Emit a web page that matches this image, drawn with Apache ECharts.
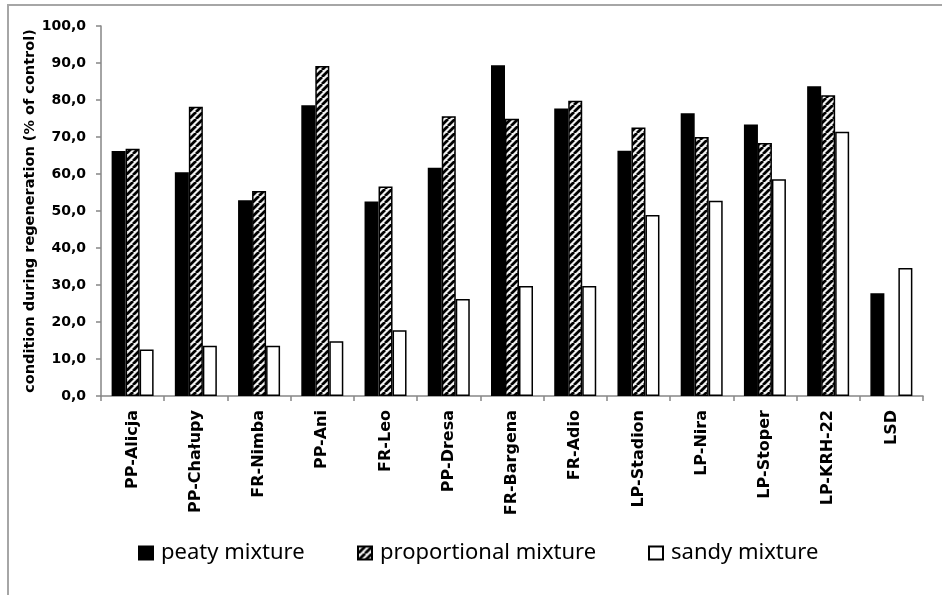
<!DOCTYPE html>
<html>
<head>
<meta charset="utf-8">
<script src="https://cdn.jsdelivr.net/npm/echarts@6/dist/echarts.min.js"></script>
<style>html,body{margin:0;padding:0;background:#fff}#c{width:942px;height:595px}</style>
</head>
<body>
<div id="c"></div>
<script>
const categories = ['PP-Alicja','PP-Chałupy','FR-Nimba','PP-Ani','FR-Leo','PP-Dresa','FR-Bargena','FR-Adio','LP-Stadion','LP-Nira','LP-Stoper','LP-KRH-22','LSD'];
const peaty = [66.2, 60.5, 52.9, 78.6, 52.6, 61.7, 89.4, 77.7, 66.3, 76.4, 73.4, 83.7, 27.8];
const proportional = [66.8, 78.2, 55.4, 89.2, 56.6, 75.6, 74.9, 79.8, 72.6, 70.0, 68.4, 81.3, null];
const sandy = [12.6, 13.6, 13.6, 14.8, 17.8, 26.2, 29.7, 29.7, 48.9, 52.8, 58.6, 71.4, 34.6];
const seriesNames = ['peaty mixture', 'proportional mixture', 'sandy mixture'];
const yAxisName = 'condition during regeneration (% of control)';

function hatch() {
  const s = 7;
  const cv = document.createElement('canvas');
  cv.width = s; cv.height = s;
  const ctx = cv.getContext('2d');
  ctx.fillStyle = '#f0f0f0';
  ctx.fillRect(0, 0, s, s);
  ctx.strokeStyle = '#000';
  ctx.lineWidth = 2.8;
  ctx.beginPath();
  for (const k of [-s, 0, s]) { ctx.moveTo(k, s); ctx.lineTo(k + s, 0); }
  ctx.stroke();
  return cv;
}
const hatchPattern = { image: hatch(), repeat: 'repeat' };

const chart = echarts.init(document.getElementById('c'), null, { renderer: 'canvas' });
const legendBase = {
  top: 542, padding: 0, itemWidth: 14, itemHeight: 13, icon: 'rect',
  textStyle: { fontFamily: 'Noto Sans', fontSize: 22, color: '#000', padding: [0, 0, 0, 3] },
  selectedMode: false
};
const axisColor = '#868686';
chart.setOption({
  animation: false,
  backgroundColor: '#fff',
  graphic: [{
    type: 'rect', shape: { x: 8, y: 5, width: 960, height: 640 },
    style: { fill: 'none', stroke: '#a6a6a6', lineWidth: 2 }, silent: true
  }],
  legend: [
    Object.assign({}, legendBase, { left: 138, data: [seriesNames[0]] }),
    Object.assign({}, legendBase, { left: 357, data: [seriesNames[1]] }),
    Object.assign({}, legendBase, { left: 648, data: [seriesNames[2]] })
  ],
  grid: { left: 101, right: 19, top: 26, bottom: 199, containLabel: false },
  xAxis: {
    type: 'category', data: categories,
    axisLine: { lineStyle: { color: axisColor, width: 1.5 } },
    axisTick: { show: true, length: 5, lineStyle: { color: axisColor, width: 1.5 } },
    axisLabel: { rotate: 90, interval: 0, margin: 14, fontFamily: 'DejaVu Sans', fontWeight: 'bold', fontSize: 16, color: '#000' },
    splitLine: { show: false }
  },
  yAxis: {
    type: 'value', min: 0, max: 100, interval: 10,
    name: yAxisName, nameLocation: 'middle', nameGap: 63, nameRotate: 90, nameMoveOverlap: false,
    nameTextStyle: { fontFamily: 'DejaVu Sans', fontWeight: 'bold', fontSize: 14.5, color: '#000' },
    axisLine: { show: true, lineStyle: { color: axisColor, width: 1.5 } },
    axisTick: { show: true, length: 5, lineStyle: { color: axisColor, width: 1.5 } },
    axisLabel: { margin: 15, fontFamily: 'DejaVu Sans', fontWeight: 'bold', fontSize: 14, color: '#000',
      formatter: v => v.toFixed(1).replace('.', ',') },
    splitLine: { show: false }
  },
  series: [
    { name: seriesNames[0], type: 'bar', data: peaty, barWidth: 14, barGap: '0%',
      itemStyle: { color: '#000', borderColor: '#000', borderWidth: 1.5 } },
    { name: seriesNames[1], type: 'bar', data: proportional, barWidth: 14, barGap: '0%',
      itemStyle: { color: hatchPattern, borderColor: '#000', borderWidth: 1.5 } },
    { name: seriesNames[2], type: 'bar', data: sandy, barWidth: 14, barGap: '0%',
      itemStyle: { color: '#fff', borderColor: '#000', borderWidth: 1.5 } }
  ]
});
</script>
</body>
</html>
